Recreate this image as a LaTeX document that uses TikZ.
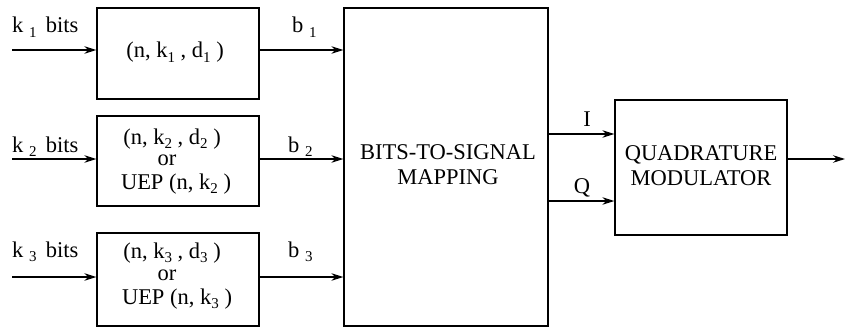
\documentclass[tikz,border=0pt]{standalone}
\usepackage{fontspec}
\setmainfont{Liberation Serif}
\usetikzlibrary{arrows.meta}
\newcommand{\sbs}[1]{\raisebox{-0.22em}{\fontsize{15}{15}\selectfont #1}}
\tikzset{
  blk/.style={draw, line width=1.3pt, inner sep=0pt},
  txt/.style={anchor=base, inner sep=0pt, font=\fontsize{22.5}{26}\selectfont},
  conn/.style={line width=1.3pt, -{Stealth[length=12pt,width=7.5pt,inset=4pt]}}
}
\begin{document}
\begin{tikzpicture}[x=1pt,y=-1pt]
\useasboundingbox (0,0) rectangle (845,329);
% boxes
\node[blk, minimum width=162pt, minimum height=91pt] (c1) at (178,53.5) {};
\node[blk, minimum width=162pt, minimum height=90pt] (c2) at (178,161) {};
\node[blk, minimum width=162pt, minimum height=93pt] (c3) at (178,279.5) {};
\node[blk, minimum width=204pt, minimum height=318pt] (map) at (446,167) {};
\node[blk, minimum width=172pt, minimum height=135pt] (mod) at (701,167.5) {};
% box texts
\node[txt] (t1) at (175,58) {(n, k\sbs{1} , d\sbs{1} )};
\node[txt] (t2a) at (172,144) {(n, k\sbs{2} , d\sbs{2} )};
\node[txt] (t2b) at (167,165) {or};
\node[txt] (t2c) at (176,189) {UEP (n, k\sbs{2} )};
\node[txt] (t3a) at (172,258) {(n, k\sbs{3} , d\sbs{3} )};
\node[txt] (t3b) at (167,280) {or};
\node[txt] (t3c) at (177,304) {UEP (n, k\sbs{3} )};
\node[txt] (tm1) at (448,159) {BITS-TO-SIGNAL};
\node[txt] (tm2) at (448,184) {MAPPING};
\node[txt] (tq1) at (701,160) {QUADRATURE};
\node[txt] (tq2) at (701,185) {MODULATOR};
% input coordinates
\coordinate (in1) at (12,50);
\coordinate (in2) at (12,159);
\coordinate (in3) at (12,277);
\coordinate (out) at (845,159);
% input arrows
\draw[conn] (in1) -- (c1.west |- in1);
\draw[conn] (in2) -- (c2.west |- in2);
\draw[conn] (in3) -- (c3.west |- in3);
\node[txt, anchor=base west] (l1) at (12,33) {k \sbs{1}\, bits};
\node[txt, anchor=base west] (l2) at (12,152) {k \sbs{2}\, bits};
\node[txt, anchor=base west] (l3) at (12,257) {k \sbs{3}\, bits};
% b arrows
\draw[conn] (c1.east |- in1) -- (map.west |- in1);
\draw[conn] (c2.east |- in2) -- (map.west |- in2);
\draw[conn] (c3.east |- in3) -- (map.west |- in3);
\node[txt, anchor=base west] (b1) at (292,33) {b \sbs{1}};
\node[txt, anchor=base west] (b2) at (288,152) {b \sbs{2}};
\node[txt, anchor=base west] (b3) at (288,257) {b \sbs{3}};
% I/Q
\coordinate (iy) at (0,134);
\coordinate (qy) at (0,201);
\draw[conn] (map.east |- iy) -- (mod.west |- iy);
\draw[conn] (map.east |- qy) -- (mod.west |- qy);
\node[txt] (li) at (587,126) {I};
\node[txt] (lq) at (582,193) {Q};
% output
\draw[conn] (mod.east |- out) -- (out);
\end{tikzpicture}
\end{document}
